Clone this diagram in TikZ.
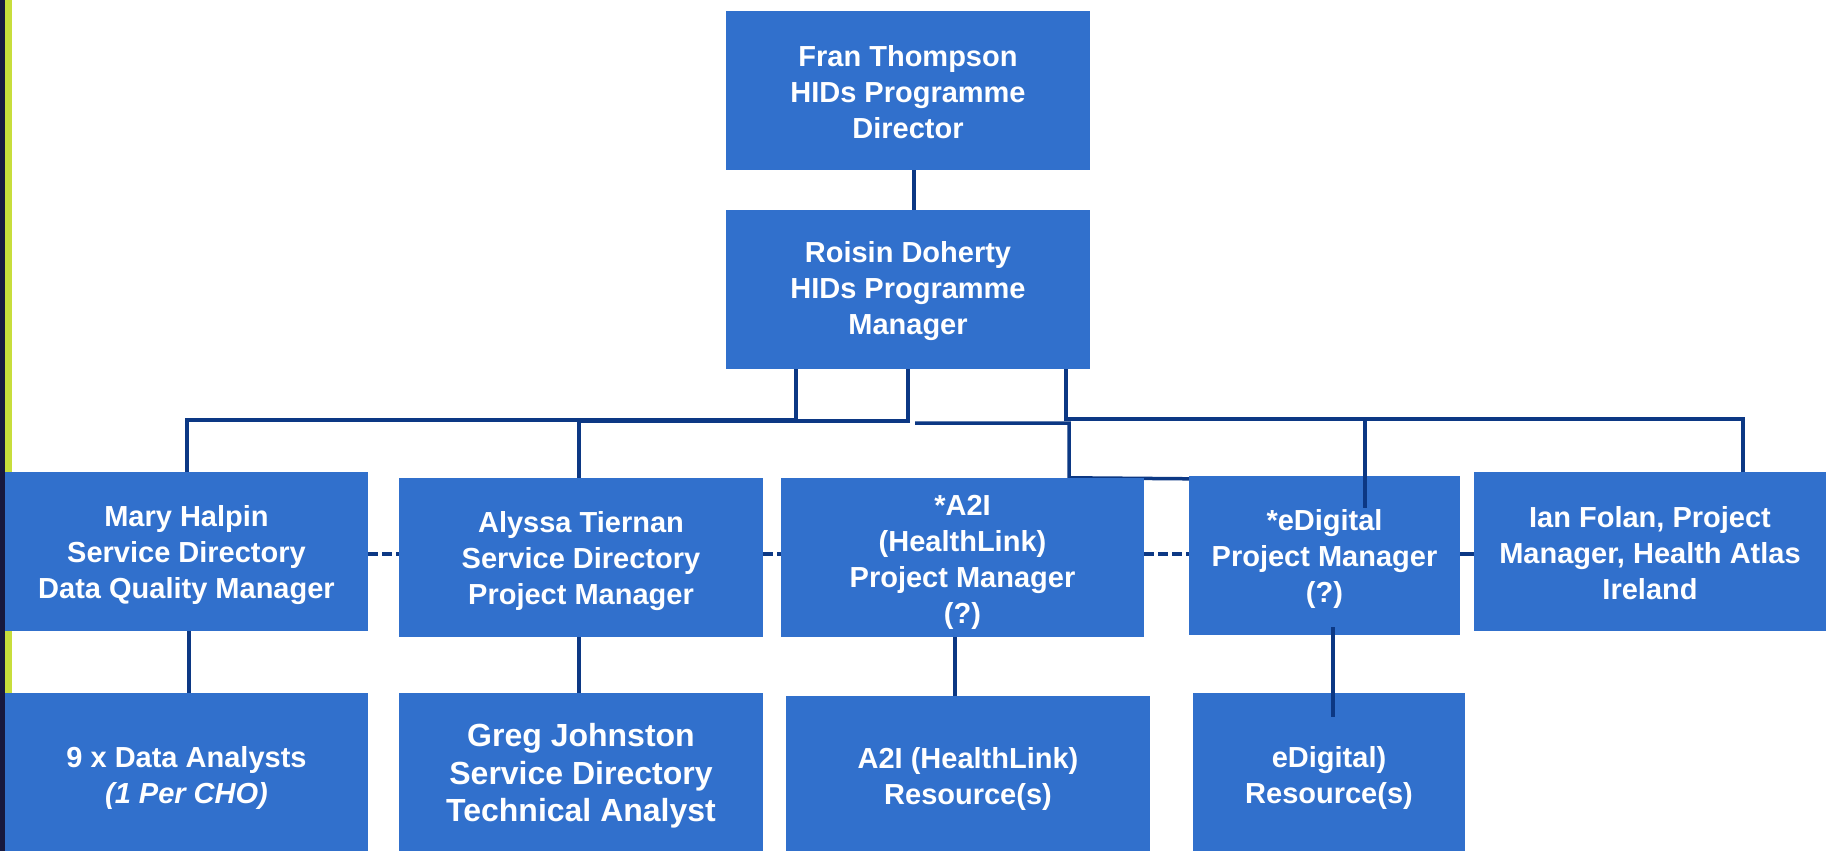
\documentclass[tikz,border=0pt]{standalone}
\usepackage{fontspec}
\setmainfont{Liberation Sans}
\definecolor{boxblue}{RGB}{49,112,204}
\definecolor{linenavy}{RGB}{12,56,132}
\definecolor{barnavy}{RGB}{23,25,63}
\definecolor{baryellow}{RGB}{200,222,60}
\pgfdeclarelayer{bg}
\pgfsetlayers{bg,main}
\tikzset{
  orgbox/.style={fill=boxblue, draw=none, inner sep=0pt},
  txt/.style={inner sep=0pt, text=white, align=center,
    font=\bfseries\fontsize{29}{36}\selectfont},
  bigtxt/.style={txt, font=\bfseries\fontsize{32}{37.5}\selectfont},
  conn/.style={draw=linenavy, line width=3.5pt},
  dashconn/.style={conn, dash pattern=on 10pt off 4pt}
}
\begin{document}
\begin{tikzpicture}[x=1pt,y=-1pt]
\useasboundingbox (0,0) rectangle (1826,851);
\begin{pgfonlayer}{bg}
\fill[white] (0,0) rectangle (1826,851);
\fill[barnavy] (0,0) rectangle (5,851);
\fill[baryellow] (5,0) rectangle (12,851);
\end{pgfonlayer}

% boxes
\node[orgbox, minimum width=364, minimum height=159] (fran) at (908,90.5) {};
\node[orgbox, minimum width=364, minimum height=159] (roisin) at (908,289.5) {};
\node[orgbox, minimum width=363, minimum height=159] (mary) at (186.5,551.5) {};
\node[orgbox, minimum width=364, minimum height=159] (alyssa) at (581,557.5) {};
\node[orgbox, minimum width=363, minimum height=159] (a2i) at (962.5,557.5) {};
\node[orgbox, minimum width=271, minimum height=159] (edig) at (1324.5,555.5) {};
\node[orgbox, minimum width=352, minimum height=159] (ian) at (1650,551.5) {};
\node[orgbox, minimum width=363, minimum height=158] (analysts) at (186.5,772) {};
\node[orgbox, minimum width=364, minimum height=158] (greg) at (581,772) {};
\node[orgbox, minimum width=364, minimum height=155] (a2ires) at (968,773.5) {};
\node[orgbox, minimum width=272, minimum height=158] (edigres) at (1329,772) {};

% texts
\node[txt] (franT) at ([yshift=-2]fran.center) {Fran Thompson\\HIDs Programme\\Director};
\node[txt] (roisinT) at ([yshift=-2]roisin.center) {Roisin Doherty\\HIDs Programme\\Manager};
\node[txt] (maryT) at ([yshift=-4]mary.center) {Mary Halpin\\Service Directory\\Data Quality Manager};
\node[txt] (alyssaT) at ([yshift=-4]alyssa.center) {Alyssa Tiernan\\Service Directory\\Project Manager};
\node[txt] (a2iT) at ([yshift=-5]a2i.center) {*A2I\\(HealthLink)\\Project Manager\\(?)};
\node[txt] (edigT) at ([yshift=-3]edig.center) {*eDigital\\Project Manager\\(?)};
\node[txt] (ianT) at ([yshift=-2]ian.center) {Ian Folan, Project\\Manager, Health Atlas\\Ireland};
\node[txt] (analystsT) at ([yshift=-6]analysts.center) {9 x Data Analysts\\\textit{(1 Per CHO)}};
\node[bigtxt] (gregT) at ([yshift=-4]greg.center) {Greg Johnston\\Service Directory\\Technical Analyst};
\node[txt] (a2iresT) at ([yshift=-5]a2ires.center) {A2I (HealthLink)\\Resource(s)};
\node[txt] (edigresT) at ([yshift=-6]edigres.center) {eDigital)\\Resource(s)};

\coordinate (cstart) at (915,423);

% connector behind boxes
\begin{pgfonlayer}{bg}
\draw[conn] (cstart) -| ([xshift=106.5]a2i.north) -- ([yshift=-3]edig.north west);
\end{pgfonlayer}

% connectors
\draw[conn] ([xshift=6]fran.south) -- ([xshift=6]roisin.north);
\draw[conn] ([xshift=-112]roisin.south) -- ++(0,51) -| ([xshift=0.5]mary.north);
\draw[conn] (roisin.south) -- ++(0,52) -| ([xshift=-2]alyssa.north);
\draw[conn] ([xshift=158]roisin.south) -- ++(0,50) coordinate (dj) -| ([xshift=93]ian.north);
\draw[conn] ([xshift=40.5,yshift=-32]edig.north) |- (dj);

\draw[dashconn] ([yshift=-2.5]mary.east) -- ([yshift=3.5]alyssa.west);
\draw[dashconn] ([yshift=3.5]alyssa.east) -- ([yshift=3.5]a2i.west);
\draw[dashconn] ([yshift=3.5]a2i.east) -- ([yshift=1.5]edig.west);
\draw[conn] ([yshift=1.5]edig.east) -- ([yshift=-2.5]ian.west);

\draw[conn] ([xshift=2.5]mary.south) -- ([xshift=2.5]analysts.north);
\draw[conn] ([xshift=-2]alyssa.south) -- ([xshift=-2]greg.north);
\draw[conn] ([xshift=-7.5]a2i.south) -- ([xshift=-13]a2ires.north);
\draw[conn] ([xshift=8.5,yshift=8]edig.south) -- ([xshift=4,yshift=-24]edigres.north);
\end{tikzpicture}
\end{document}
